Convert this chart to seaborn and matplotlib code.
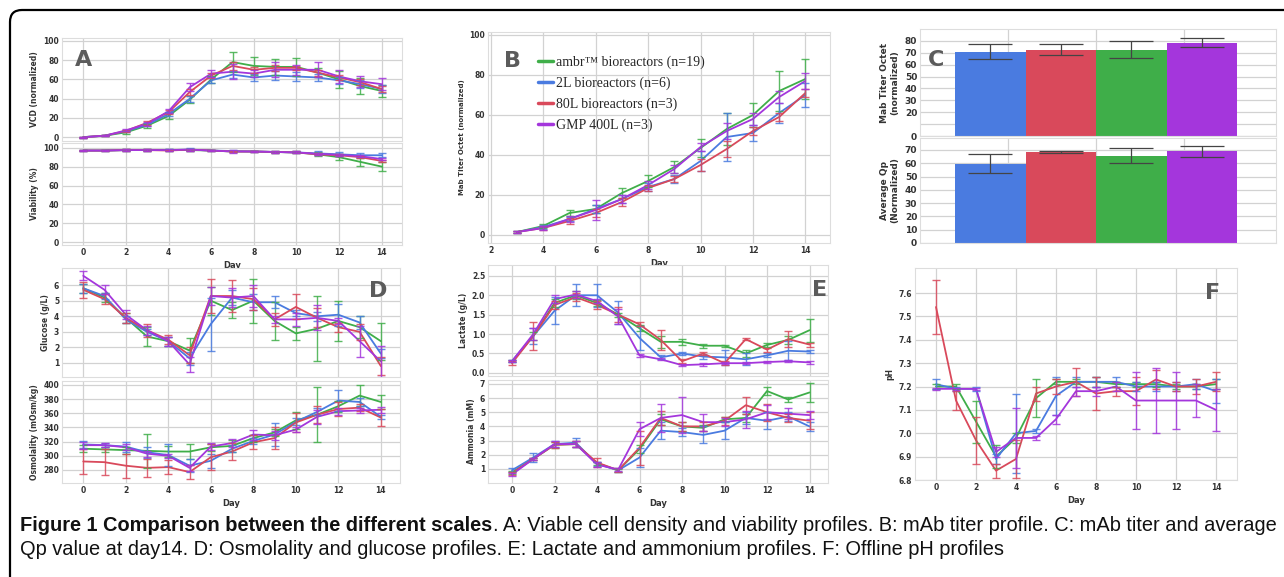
import matplotlib
matplotlib.use("Agg")
import matplotlib.pyplot as plt
import seaborn as sns
import pandas as pd
from matplotlib.lines import Line2D
from matplotlib.patches import FancyBboxPatch
from matplotlib.transforms import IdentityTransform

# ----------------------------
# data
# ----------------------------
keys = ["ambr", "2L", "80L", "400L"]
legend_labels = ["ambr\u2122 bioreactors (n=19)", "2L bioreactors (n=6)",
                 "80L bioreactors (n=3)", "GMP 400L (n=3)"]
palette = {"ambr": "#3fae49", "2L": "#4a7be0", "80L": "#d9495b", "400L": "#a436dc"}

days = list(range(15))
titer_days = list(range(3, 15))

vcd = {
    "ambr": [0, 1.5, 5, 12, 22, 39, 60, 78, 74, 73, 73, 67, 60, 53, 48],
    "2L":   [0, 1.5, 6, 13, 24, 40, 59, 65, 62, 64, 63, 62, 59, 55, 50],
    "80L":  [0, 1.5, 6.5, 15, 26, 47, 64, 74, 70, 72, 72, 67, 62, 57, 50],
    "400L": [0, 1.5, 7, 14, 27, 52, 66, 68, 66, 70, 70, 70, 63, 58, 55],
}
vcd_err = {
    "ambr": [0.5, 0.5, 1.5, 2, 3, 4, 4, 10, 9, 8, 9, 5, 9, 8, 6],
    "2L":   [0.5, 0.5, 1, 1.5, 2, 3, 3, 4, 4, 5, 5, 4, 4, 4, 4],
    "80L":  [0.5, 0.5, 1, 2, 2, 3, 3, 4, 3, 3, 2, 3, 3, 3, 3],
    "400L": [0.5, 0.5, 1, 2, 2, 4, 4, 8, 4, 8, 5, 8, 7, 6, 6],
}
viability = {
    "ambr": [97, 97, 97.5, 97.5, 97.5, 97.5, 97, 96, 96, 95.5, 95, 93, 90, 85, 80],
    "2L":   [97, 97, 97.5, 97.5, 97.5, 98, 97, 96.5, 96, 95.5, 95, 94, 93, 92, 92],
    "80L":  [97, 97, 97.5, 97.5, 97, 98, 97, 96, 96, 95.5, 95, 93, 92, 90, 86],
    "400L": [97, 97, 97.5, 97.5, 97.5, 98, 97, 96, 96, 95.5, 95, 93.5, 92.5, 91, 88],
}
viability_err = {
    "ambr": [1, 1, 1, 1, 1, 1, 1, 1, 1, 1, 1, 2, 3, 4, 5],
    "2L":   [1, 1, 1, 1, 1, 1.5, 1, 1, 1, 1, 1, 2, 2, 2, 2],
    "80L":  [1, 1, 1, 1, 1, 1, 1, 1, 1, 1, 1, 1, 1, 1, 1.5],
    "400L": [1, 1, 1, 1, 1, 1, 1, 1.5, 1, 1, 1, 1, 1, 1, 1],
}
titer = {
    "ambr": [1.5, 4.5, 11, 13, 21, 27, 34, 43.5, 53, 60, 72, 78],
    "2L":   [1.5, 4, 8, 13, 18, 24, 28, 37, 49, 51, 61, 70],
    "80L":  [1.5, 3.5, 7, 11, 16.5, 23.5, 28, 35, 43, 52, 59, 71],
    "400L": [1.5, 3.5, 8, 12.5, 18, 25, 33, 44, 52, 58, 69, 77],
}
titer_err = {
    "ambr": [0.3, 1, 1.5, 2, 2.5, 3, 3, 4.5, 8, 6, 10, 10],
    "2L":   [0.3, 0.8, 1, 2, 2, 2, 2, 5, 12, 4, 5, 6],
    "80L":  [0.3, 0.8, 1.5, 2, 2, 1.5, 1.5, 3, 4, 2, 2, 2],
    "400L": [0.3, 0.8, 1.5, 5, 2, 2, 2, 2, 4, 3, 3, 4],
}
glucose = {
    "ambr": [5.8, 5.2, 3.9, 2.7, 2.4, 1.8, 5.0, 4.4, 5.0, 3.7, 2.9, 3.2, 3.7, 3.3, 2.4],
    "2L":   [5.8, 5.3, 3.8, 3.0, 2.4, 1.3, 3.5, 5.2, 4.9, 4.9, 4.2, 4.0, 4.1, 3.6, 1.6],
    "80L":  [5.7, 5.1, 3.9, 3.1, 2.5, 1.5, 5.3, 5.3, 5.1, 3.8, 4.6, 3.9, 3.3, 3.0, 0.8],
    "400L": [6.6, 5.7, 4.1, 3.1, 2.4, 0.9, 5.3, 5.2, 5.3, 3.8, 3.8, 3.9, 3.7, 2.4, 1.1],
}
glucose_err = {
    "ambr": [0.3, 0.3, 0.3, 0.6, 0.3, 0.8, 0.9, 0.5, 1.4, 1.2, 0.4, 2.1, 1.3, 0.7, 1.2],
    "2L":   [0.3, 0.2, 0.2, 0.2, 0.3, 0.4, 1.7, 0.5, 0.5, 0.4, 0.2, 0.3, 0.7, 0.4, 0.3],
    "80L":  [0.5, 0.3, 0.3, 0.4, 0.3, 0.5, 1.1, 1.0, 0.7, 0.4, 0.8, 0.6, 0.3, 0.5, 0.6],
    "400L": [0.3, 0.3, 0.3, 0.3, 0.3, 0.5, 0.6, 0.6, 0.7, 0.2, 0.4, 0.8, 0.2, 1.0, 1.0],
}
osmolality = {
    "ambr": [310, 309, 308, 307, 306, 306, 312, 314, 325, 333, 350, 358, 370, 385, 376],
    "2L":   [316, 315, 313, 305, 301, 286, 293, 310, 321, 330, 348, 362, 378, 376, 355],
    "80L":  [292, 291, 286, 283, 284, 277, 298, 306, 319, 325, 347, 358, 366, 368, 354],
    "400L": [315, 315, 312, 303, 300, 283, 313, 318, 330, 329, 337, 355, 363, 364, 365],
}
osmolality_err = {
    "ambr": [5, 3, 5, 24, 8, 10, 5, 8, 5, 5, 12, 39, 8, 15, 10],
    "2L":   [5, 3, 7, 8, 15, 9, 10, 5, 4, 16, 5, 5, 15, 5, 3],
    "80L":  [18, 18, 17, 13, 10, 10, 18, 12, 10, 15, 14, 12, 10, 5, 12],
    "400L": [5, 3, 4, 4, 3, 4, 5, 6, 7, 6, 3, 10, 5, 3, 4],
}
lactate = {
    "ambr": [0.3, 0.95, 1.8, 2.0, 1.8, 1.5, 1.15, 0.8, 0.8, 0.7, 0.7, 0.5, 0.72, 0.85, 1.1],
    "2L":   [0.3, 0.95, 1.6, 2.0, 2.0, 1.55, 0.9, 0.4, 0.5, 0.42, 0.4, 0.35, 0.45, 0.57, 0.55],
    "80L":  [0.25, 0.95, 1.75, 1.95, 1.75, 1.5, 1.25, 0.85, 0.3, 0.5, 0.25, 0.87, 0.6, 0.87, 0.73],
    "400L": [0.3, 1.0, 1.9, 2.02, 1.85, 1.45, 0.45, 0.35, 0.2, 0.22, 0.25, 0.25, 0.28, 0.3, 0.27],
}
lactate_err = {
    "ambr": [0.03, 0.1, 0.1, 0.1, 0.08, 0.05, 0.08, 0.15, 0.08, 0.05, 0.03, 0.08, 0.05, 0.1, 0.3],
    "2L":   [0.03, 0.2, 0.35, 0.28, 0.3, 0.3, 0.3, 0.05, 0.03, 0.05, 0.2, 0.15, 0.05, 0.25, 0.05],
    "80L":  [0.05, 0.35, 0.1, 0.1, 0.1, 0.2, 0.05, 0.25, 0.05, 0.03, 0.05, 0.03, 0.05, 0.2, 0.05],
    "400L": [0.03, 0.15, 0.1, 0.1, 0.05, 0.2, 0.03, 0.03, 0.03, 0.03, 0.03, 0.03, 0.03, 0.03, 0.03],
}
ammonia = {
    "ambr": [0.75, 1.7, 2.7, 2.75, 1.4, 0.9, 2.4, 4.5, 4.0, 3.9, 4.5, 4.6, 6.5, 5.9, 6.4],
    "2L":   [0.9, 1.8, 2.75, 2.85, 1.35, 0.9, 1.8, 3.7, 3.6, 3.4, 3.7, 4.6, 4.4, 4.7, 4.0],
    "80L":  [0.7, 1.7, 2.7, 2.75, 1.45, 0.9, 2.5, 4.6, 4.0, 4.0, 4.4, 5.5, 5.0, 4.6, 4.4],
    "400L": [0.6, 1.7, 2.75, 2.75, 1.3, 0.95, 3.8, 4.6, 4.8, 4.3, 4.3, 4.5, 5.0, 4.9, 4.8],
}
ammonia_err = {
    "ambr": [0.1, 0.1, 0.2, 0.2, 0.1, 0.1, 0.3, 0.4, 0.3, 0.2, 0.2, 0.3, 0.3, 0.2, 0.7],
    "2L":   [0.15, 0.3, 0.2, 0.3, 0.15, 0.15, 0.7, 0.6, 0.3, 0.6, 0.6, 0.4, 0.6, 0.3, 0.3],
    "80L":  [0.1, 0.1, 0.2, 0.2, 0.3, 0.15, 1.2, 0.5, 0.3, 0.3, 0.3, 0.6, 0.6, 0.3, 0.6],
    "400L": [0.1, 0.1, 0.2, 0.2, 0.2, 0.1, 0.5, 1.0, 1.3, 0.6, 0.3, 0.6, 0.5, 0.4, 0.3],
}
ph = {
    "ambr": [7.2, 7.2, 7.05, 6.9, 6.98, 7.15, 7.22, 7.22, 7.22, 7.21, 7.21, 7.21, 7.2, 7.2, 7.21],
    "2L":   [7.21, 7.19, 7.19, 6.89, 7.0, 7.01, 7.16, 7.22, 7.22, 7.22, 7.2, 7.2, 7.2, 7.21, 7.18],
    "80L":  [7.54, 7.14, 6.97, 6.84, 6.89, 7.17, 7.2, 7.22, 7.17, 7.18, 7.18, 7.23, 7.2, 7.2, 7.22],
    "400L": [7.19, 7.19, 7.19, 6.92, 6.98, 6.98, 7.06, 7.18, 7.18, 7.2, 7.14, 7.14, 7.14, 7.14, 7.1],
}
ph_err = {
    "ambr": [0.01, 0.01, 0.09, 0.05, 0.02, 0.08, 0.01, 0.01, 0.02, 0.01, 0.01, 0.01, 0.01, 0.01, 0.02],
    "2L":   [0.02, 0.01, 0.01, 0.02, 0.17, 0.01, 0.08, 0.02, 0.02, 0.02, 0.02, 0.02, 0.02, 0.02, 0.05],
    "80L":  [0.115, 0.04, 0.1, 0.03, 0.08, 0.03, 0.03, 0.06, 0.07, 0.02, 0.06, 0.04, 0.02, 0.03, 0.04],
    "400L": [0.005, 0.005, 0.005, 0.02, 0.13, 0.01, 0.02, 0.02, 0.02, 0.02, 0.12, 0.14, 0.12, 0.07, 0.09],
}

# panel C, bar order as drawn: 2L, 80L, ambr, 400L
bar_keys = ["2L", "80L", "ambr", "400L"]
titer_day14 = [71, 72.7, 72.7, 78.3]
titer_day14_err = [6, 4.3, 7, 3.8]
qp_avg = [59.8, 68.5, 65.8, 69]
qp_avg_err = [7, 1, 5.5, 4.3]

caption_bold = "Figure 1 Comparison between the different scales"
caption_rest = (". A: Viable cell density and viability profiles. B: mAb titer profile. "
                "C: mAb titer and average")
caption_line2 = ("Qp value at day14. D: Osmolality and glucose profiles. E: Lactate and "
                 "ammonium profiles. F: Offline pH profiles")

# ----------------------------
# figure
# ----------------------------
sns.set_theme(style="whitegrid")
plt.rcParams["font.family"] = ["DejaVu Sans"]

W, H = 1284, 577
fig = plt.figure(figsize=(W / 100, H / 100), dpi=100)


def px_axes(x0, y0, x1, y1):
    return fig.add_axes([x0 / W, 1 - y1 / H, (x1 - x0) / W, (y1 - y0) / H])


def style(ax, tick_size=5.5):
    ax.set_facecolor("white")
    ax.grid(True, color="#d2d2d2", lw=0.9)
    for s in ax.spines.values():
        s.set_color("#dddddd")
        s.set_linewidth(0.8)
    ax.tick_params(length=0, pad=2, labelsize=tick_size, labelcolor="#333333")
    for lab in ax.get_xticklabels() + ax.get_yticklabels():
        lab.set_fontweight("bold")


def draw_lines(ax, x, means, errs, capsize=3.2):
    rows = []
    for k in keys:
        for d, m in zip(x, means[k]):
            rows.append((k, d, m))
    df = pd.DataFrame(rows, columns=["scale", "day", "value"])
    sns.lineplot(data=df, x="day", y="value", hue="scale", hue_order=keys,
                 palette=palette, ax=ax, legend=False, lw=1.3, errorbar=None)
    for k in keys:
        ax.errorbar(x, means[k], yerr=errs[k], fmt="none", ecolor=palette[k],
                    elinewidth=1.0, capsize=capsize, capthick=1.0, alpha=0.85)
    ax.set_xlabel("")
    ax.set_ylabel("")


def ylab(ax, text, size=5.5):
    ax.set_ylabel(text, fontsize=size, fontweight="bold", color="#333333", labelpad=3)


def day_axis(ax, xlim, ticks, bottom=True):
    ax.set_xlim(*xlim)
    ax.set_xticks(ticks)
    if bottom:
        ax.set_xlabel("Day", fontsize=6, fontweight="bold", color="#333333", labelpad=3)
    else:
        ax.set_xticklabels([])


def letter(x, y, s):
    fig.text(x / W, 1 - y / H, s, fontsize=16, fontweight="bold", color="#5b5b5b",
             ha="center", va="center")


even_days = list(range(0, 15, 2))

# A: VCD and viability
ax = px_axes(62, 38, 402, 141)
draw_lines(ax, days, vcd, vcd_err)
day_axis(ax, (-1, 14.95), even_days, bottom=False)
ax.set_ylim(-4, 103)
ax.set_yticks(range(0, 101, 20))
ylab(ax, "VCD (normalized)")
style(ax)

ax = px_axes(62, 143, 402, 245)
draw_lines(ax, days, viability, viability_err)
day_axis(ax, (-1, 14.95), even_days)
ax.set_ylim(-3, 105)
ax.set_yticks(range(0, 101, 20))
ylab(ax, "Viability (%)")
style(ax)
letter(84, 60, "A")

# B: titer
ax = px_axes(488, 32, 830, 243)
draw_lines(ax, titer_days, titer, titer_err)
day_axis(ax, (1.89, 14.94), even_days[1:])
ax.set_ylim(-4, 101.5)
ax.set_yticks(range(0, 101, 20))
ylab(ax, "Mab Titer Octet (normalized)", 5)
style(ax, 5.5)
handles = [Line2D([], [], color=palette[k], lw=2.5) for k in keys]
leg = ax.legend(handles, legend_labels, loc="upper left", bbox_to_anchor=(532 / W, 1 - 50 / H),
                bbox_transform=fig.transFigure, frameon=False, handlelength=1.1,
                handletextpad=0.2, labelspacing=0.55, borderaxespad=0,
                prop={"family": "Liberation Serif", "size": 10})
letter(512, 61, "B")

# C: bars at day 14
for (y0, y1), vals, errs, top, ticks, labels, text in [
    ((29, 136), titer_day14, titer_day14_err, 90, list(range(0, 81, 10)),
     ["0", "", "20", "30", "40", "50", "60", "70", "80"], "Mab Titer Octet\n(normalized)"),
    ((138, 243), qp_avg, qp_avg_err, 79, list(range(0, 71, 10)),
     [str(v) for v in range(0, 71, 10)], "Average Qp\n(Normalized)"),
]:
    ax = px_axes(920, y0, 1276, y1)
    bars = pd.DataFrame({"scale": bar_keys, "value": vals})
    sns.barplot(data=bars, x="scale", y="value", hue="scale", palette=palette,
                width=1.0, ax=ax, legend=False, edgecolor="none", saturation=1)
    ax.errorbar(range(len(bar_keys)), vals, yerr=errs, fmt="none", ecolor="#444444",
                elinewidth=0.9, capsize=16, capthick=0.9)
    ax.set_xlim(-1.0, 4.05)
    ax.set_ylim(0, top)
    ax.set_yticks(ticks)
    ax.set_yticklabels(labels)
    ax.set_xticks([0.25, 1.5, 2.75])
    ax.set_xticklabels([])
    ax.set_xlabel("")
    ax.set_ylabel(text, fontsize=6.5, fontweight="bold", color="#333333", labelpad=4)
    style(ax, 6.5)
letter(936, 60, "C")

# D: glucose and osmolality
ax = px_axes(62, 268, 400, 377)
draw_lines(ax, days, glucose, glucose_err)
day_axis(ax, (-1, 14.9), even_days, bottom=False)
ax.set_ylim(0.1, 7.1)
ax.set_yticks(range(1, 7))
ylab(ax, "Glucose (g/L)")
style(ax)

ax = px_axes(62, 381, 400, 483)
draw_lines(ax, days, osmolality, osmolality_err)
day_axis(ax, (-1, 14.9), even_days)
ax.set_ylim(261.6, 405.6)
ax.set_yticks(range(280, 401, 20))
ylab(ax, "Osmolality (mOsm/kg)")
style(ax)
letter(378, 291, "D")

# E: lactate and ammonia
ax = px_axes(488, 265, 828, 376)
draw_lines(ax, days, lactate, lactate_err)
day_axis(ax, (-1.13, 14.87), even_days, bottom=False)
ax.set_ylim(-0.08, 2.78)
ax.set_yticks([0, 0.5, 1.0, 1.5, 2.0, 2.5])
ax.set_yticklabels(["0.0", "0.5", "1.0", "1.5", "2.0", "2.5"])
ylab(ax, "Lactate (g/L)")
style(ax)

ax = px_axes(488, 380, 828, 483)
draw_lines(ax, days, ammonia, ammonia_err)
day_axis(ax, (-1.13, 14.87), even_days)
ax.set_ylim(0.0, 7.28)
ax.set_yticks(range(1, 8))
ylab(ax, "Ammonia (mM)")
style(ax)
letter(820, 290, "E")

# F: pH
ax = px_axes(915, 268, 1237, 480)
draw_lines(ax, days, ph, ph_err)
day_axis(ax, (-1.05, 15.05), even_days)
ax.set_ylim(6.8, 7.707)
ph_ticks = [6.8, 6.9, 7.0, 7.1, 7.2, 7.3, 7.4, 7.5, 7.6]
ax.set_yticks(ph_ticks)
ax.set_yticklabels([f"{v:.1f}" for v in ph_ticks])
ylab(ax, "pH")
style(ax)
letter(1213, 293, "F")

# caption: fit the first line into the frame width
cap_font = ["Liberation Sans", "DejaVu Sans"]
renderer = fig.canvas.get_renderer()
t1 = fig.text(20 / W, 1 - 531 / H, caption_bold, fontsize=13, fontweight="bold",
              family=cap_font, color="#111111")
t2 = fig.text(0, 1 - 531 / H, caption_rest, fontsize=13, family=cap_font, color="#111111")
w1 = t1.get_window_extent(renderer).width
w2 = t2.get_window_extent(renderer).width
size = 13 * 1256 / (w1 + w2)
t1.set_fontsize(size)
t2.set_fontsize(size)
t2.set_x((20 + w1 * size / 13) / W)
fig.text(20 / W, 1 - 555 / H, caption_line2, fontsize=size, family=cap_font, color="#111111")

# rounded frame around the figure
frame = FancyBboxPatch((10, -30), 1320, H - 10 + 30, boxstyle="round,pad=0,rounding_size=12",
                       transform=IdentityTransform(), fill=False, edgecolor="black", lw=1.6)
fig.patches.append(frame)

fig.savefig("out.png", dpi=100)
